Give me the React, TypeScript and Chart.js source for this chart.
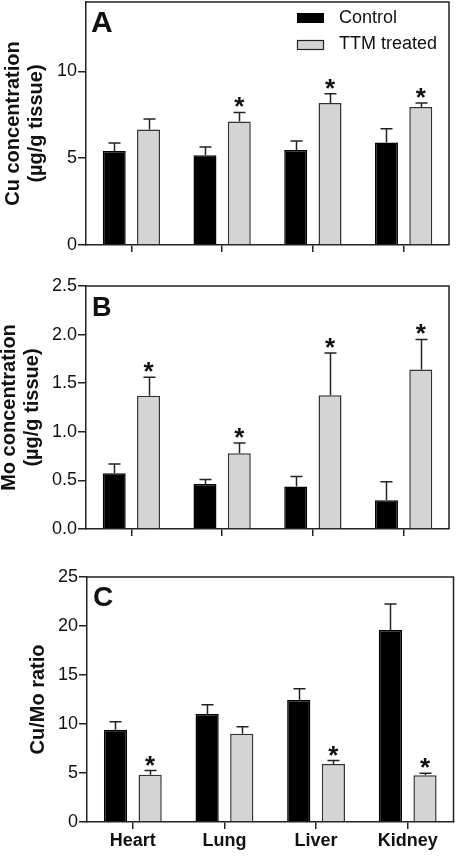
import React, { useEffect, useRef } from "react";
import { Chart, registerables } from "chart.js";
Chart.register(...registerables);

const organs = ["Heart", "Lung", "Liver", "Kidney"];
const seriesNames = ["Control", "TTM treated"];

// Panel A: Cu concentration (µg/g tissue)
const cuControl = [5.42, 5.17, 5.48, 5.9];
const cuControlSem = [0.46, 0.48, 0.51, 0.8];
const cuTtm = [6.65, 7.11, 8.18, 7.95];
const cuTtmSem = [0.61, 0.53, 0.54, 0.23];
const cuSig = [false, true, true, true];
const cuTicks = [0, 5, 10];

// Panel B: Mo concentration (µg/g tissue)
const moControl = [0.574, 0.463, 0.437, 0.296];
const moControlSem = [0.096, 0.047, 0.103, 0.19];
const moTtm = [1.37, 0.78, 1.377, 1.64];
const moTtmSem = [0.19, 0.106, 0.433, 0.31];
const moSig = [true, true, true, true];
const moTicks = [0, 0.5, 1, 1.5, 2, 2.5];

// Panel C: Cu/Mo ratio
const ratioControl = [9.42, 11.02, 12.44, 19.6];
const ratioControlSem = [0.82, 0.94, 1.16, 2.64];
const ratioTtm = [4.81, 9.01, 5.93, 4.78];
const ratioTtmSem = [0.44, 0.72, 0.34, 0.2];
const ratioSig = [true, false, true, true];
const ratioTicks = [0, 5, 10, 15, 20, 25];

const FONT = "'Liberation Sans', Arial, Helvetica, sans-serif";
const INK = "#111";
const LINE = "#222";
const GRAY = "#d4d4d4";

type Panel = {
  letter: string;
  letterSize: number;
  letterDx: number;
  letterDy: number;
  control: number[];
  controlSem: number[];
  ttm: number[];
  ttmSem: number[];
  sig: boolean[];
  ticks: number[];
  max: number;
  decimals: number;
  title: string | string[];
  titlePad: number;
  top: number;
  height: number;
  padTop: number;
  padRight: number;
  yWidth: number;
  xHeight: number;
  showLabels: boolean;
  legend: boolean;
};

const panels: Panel[] = [
  {
    letter: "A", letterSize: 30, letterDx: 5, letterDy: 30,
    control: cuControl, controlSem: cuControlSem, ttm: cuTtm, ttmSem: cuTtmSem, sig: cuSig,
    ticks: cuTicks, max: 14, decimals: 0,
    title: ["Cu concentration", "(\u00b5g/g tissue)"], titlePad: 2,
    top: 0, height: 270, padTop: 2, padRight: 8, yWidth: 86, xHeight: 25,
    showLabels: false, legend: true,
  },
  {
    letter: "B", letterSize: 27, letterDx: 6, letterDy: 30,
    control: moControl, controlSem: moControlSem, ttm: moTtm, ttmSem: moTtmSem, sig: moSig,
    ticks: moTicks, max: 2.5, decimals: 1,
    title: ["Mo concentration", "(\u00b5g/g tissue)"], titlePad: -2,
    top: 275, height: 285, padTop: 11, padRight: 8, yWidth: 86, xHeight: 31,
    showLabels: false, legend: false,
  },
  {
    letter: "C", letterSize: 28, letterDx: 6, letterDy: 29,
    control: ratioControl, controlSem: ratioControlSem, ttm: ratioTtm, ttmSem: ratioTtmSem, sig: ratioSig,
    ticks: ratioTicks, max: 25, decimals: 0,
    title: "Cu/Mo ratio", titlePad: 27,
    top: 560, height: 307, padTop: 17, padRight: 3.5, yWidth: 87, xHeight: 45,
    showLabels: true, legend: false,
  },
];

function makeDecor(p: Panel) {
  return {
    id: "decor" + p.letter,
    afterDatasetsDraw(chart: any) {
      const ctx = chart.ctx;
      const { left, right, top, bottom } = chart.chartArea;
      const y = chart.scales.y;
      const sems = [p.controlSem, p.ttmSem];
      ctx.save();
      chart.data.datasets.forEach((ds: any, di: number) => {
        const meta = chart.getDatasetMeta(di);
        meta.data.forEach((bar: any, i: number) => {
          const v = ds.data[i] as number;
          const yTop = y.getPixelForValue(v + sems[di][i]);
          const x = Math.round(bar.x) + 0.5;
          ctx.strokeStyle = LINE;
          ctx.lineWidth = 1.5;
          ctx.beginPath();
          ctx.moveTo(x, bar.y);
          ctx.lineTo(x, yTop);
          ctx.moveTo(x - 6, yTop);
          ctx.lineTo(x + 6, yTop);
          ctx.stroke();
          if (di === 1 && p.sig[i]) {
            ctx.fillStyle = INK;
            ctx.font = `bold 26px ${FONT}`;
            ctx.textAlign = "center";
            ctx.textBaseline = "alphabetic";
            ctx.fillText("*", bar.x, yTop + 3);
          }
        });
      });
      // top and right frame
      ctx.strokeStyle = LINE;
      ctx.lineWidth = 1.5;
      ctx.beginPath();
      ctx.moveTo(left, top);
      ctx.lineTo(right, top);
      ctx.lineTo(right, bottom);
      ctx.stroke();
      // panel letter
      ctx.fillStyle = INK;
      ctx.font = `bold ${p.letterSize}px ${FONT}`;
      ctx.textAlign = "left";
      ctx.textBaseline = "alphabetic";
      ctx.fillText(p.letter, left + p.letterDx, top + p.letterDy);
      // legend
      if (p.legend) {
        ctx.fillStyle = "#000";
        ctx.fillRect(297, 13, 27, 10);
        ctx.fillStyle = GRAY;
        ctx.fillRect(297, 40, 27, 10);
        ctx.strokeStyle = LINE;
        ctx.lineWidth = 1.2;
        ctx.strokeRect(297.5, 40.5, 26, 9);
        ctx.fillStyle = INK;
        ctx.font = `18px ${FONT}`;
        ctx.fillText(seriesNames[0], 339, 22.7);
        ctx.fillText(seriesNames[1], 339, 49.3);
      }
      ctx.restore();
    },
  };
}

function PanelChart({ p }: { p: Panel }) {
  const ref = useRef<HTMLCanvasElement | null>(null);
  useEffect(() => {
    if (!ref.current) return;
    const chart = new Chart(ref.current, {
      type: "bar",
      data: {
        labels: organs,
        datasets: [
          {
            label: seriesNames[0],
            data: p.control,
            backgroundColor: "#000",
            borderColor: "#000",
            borderWidth: 1.5,
            categoryPercentage: 0.756,
            barPercentage: 0.67,
          },
          {
            label: seriesNames[1],
            data: p.ttm,
            backgroundColor: GRAY,
            borderColor: "#333",
            borderWidth: 1.5,
            categoryPercentage: 0.756,
            barPercentage: 0.67,
          },
        ],
      },
      options: {
        responsive: false,
        animation: false,
        devicePixelRatio: 1,
        font: { family: FONT },
        layout: { padding: { top: p.padTop, right: p.padRight, left: 0, bottom: 0 } },
        plugins: { legend: { display: false }, tooltip: { enabled: false } },
        scales: {
          x: {
            type: "category",
            offset: true,
            grid: {
              display: true,
              offset: false,
              drawOnChartArea: false,
              drawTicks: true,
              tickLength: 7,
              color: LINE,
              lineWidth: 1.5,
            },
            border: { display: true, color: LINE, width: 1.5 },
            ticks: {
              display: p.showLabels,
              color: INK,
              font: { family: FONT, size: 18, weight: "bold" },
              padding: 1,
              maxRotation: 0,
              autoSkip: false,
            },
            afterFit: (s: any) => {
              s.height = p.xHeight;
              s.paddingLeft = 0;
              s.paddingRight = 0;
            },
          },
          y: {
            type: "linear",
            min: 0,
            max: p.max,
            grid: {
              display: true,
              drawOnChartArea: false,
              drawTicks: true,
              tickLength: 8,
              color: LINE,
              lineWidth: 1.5,
            },
            border: { display: true, color: LINE, width: 1.5 },
            ticks: {
              color: INK,
              font: { family: FONT, size: 18 },
              padding: 1,
              callback: (v: any) => Number(v).toFixed(p.decimals),
            },
            afterBuildTicks: (s: any) => {
              s.ticks = p.ticks.map((v) => ({ value: v }));
            },
            title: {
              display: true,
              text: p.title,
              color: INK,
              font: { family: FONT, size: 20, weight: "bold", lineHeight: 1.15 },
              padding: { top: p.titlePad, bottom: 0 },
            },
            afterFit: (s: any) => {
              s.width = p.yWidth;
              s.paddingTop = 0;
              s.paddingBottom = 0;
            },
          },
        },
      },
      plugins: [makeDecor(p)],
    } as any);
    return () => chart.destroy();
  }, [p]);
  return (
    <canvas
      ref={ref}
      width={457}
      height={p.height}
      style={{ position: "absolute", left: 0, top: p.top, width: 457, height: p.height }}
    />
  );
}

export default function App() {
  return (
    <div style={{ position: "absolute", left: 0, top: 0, width: 457, height: 867, background: "#fff" }}>
      {panels.map((p) => (
        <PanelChart key={p.letter} p={p} />
      ))}
    </div>
  );
}
